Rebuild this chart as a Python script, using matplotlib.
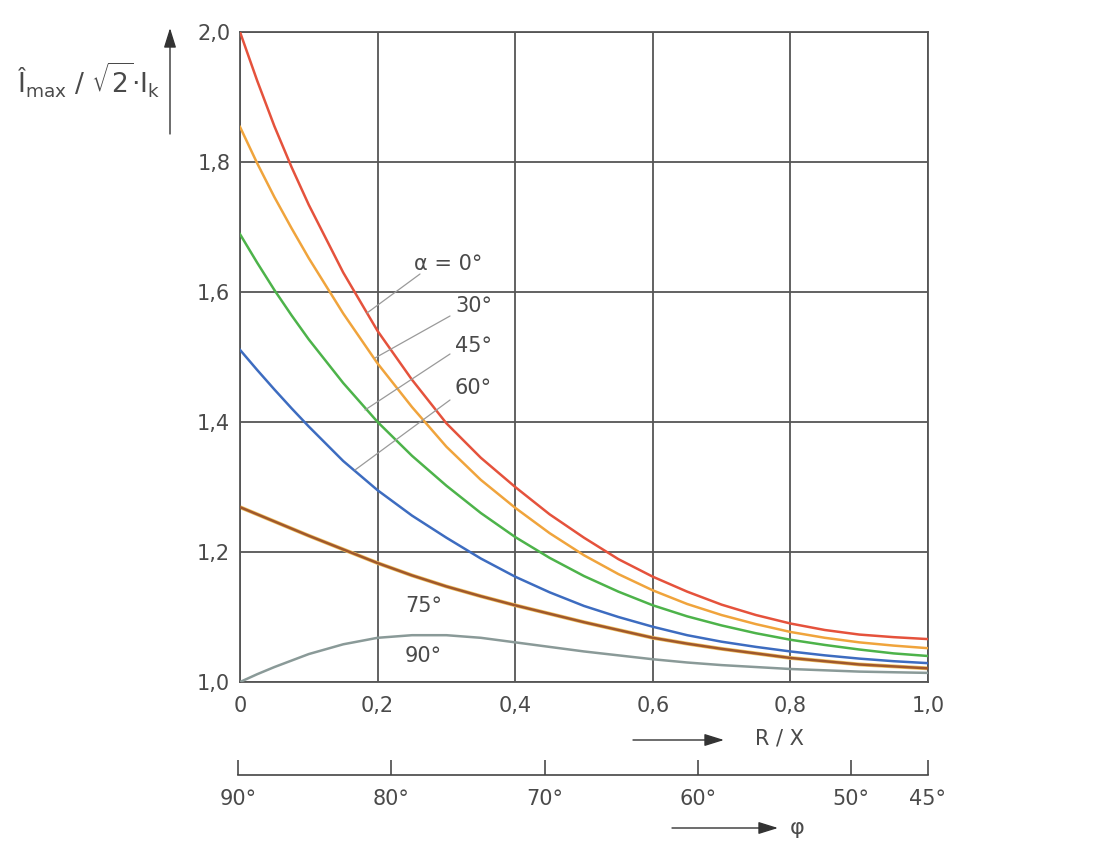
import matplotlib
matplotlib.use("Agg")
import matplotlib.pyplot as plt

plt.rcParams['font.family'] = ['DejaVu Sans']
plt.rcParams['mathtext.fontset'] = 'dejavusans'

# ---------------- data ----------------
rx = [0.0, 0.025, 0.05, 0.075, 0.1, 0.15, 0.2, 0.25, 0.3, 0.35, 0.4, 0.45, 0.5,
      0.55, 0.6, 0.65, 0.7, 0.75, 0.8, 0.85, 0.9, 0.95, 1.0]
alpha_0 = [2.000, 1.925, 1.855, 1.792, 1.734, 1.630, 1.540, 1.465, 1.398, 1.345, 1.300, 1.258, 1.222,
           1.189, 1.162, 1.139, 1.119, 1.103, 1.090, 1.080, 1.073, 1.069, 1.066]
alpha_30 = [1.854, 1.798, 1.746, 1.698, 1.652, 1.567, 1.490, 1.423, 1.362, 1.311, 1.268, 1.229, 1.195,
            1.166, 1.141, 1.120, 1.103, 1.089, 1.077, 1.068, 1.061, 1.056, 1.052]
alpha_45 = [1.689, 1.645, 1.603, 1.564, 1.527, 1.460, 1.400, 1.348, 1.302, 1.260, 1.223, 1.191, 1.163,
            1.139, 1.118, 1.101, 1.087, 1.075, 1.065, 1.057, 1.050, 1.044, 1.040]
alpha_60 = [1.511, 1.480, 1.450, 1.421, 1.393, 1.340, 1.295, 1.256, 1.222, 1.190, 1.162, 1.138, 1.117,
            1.100, 1.085, 1.072, 1.062, 1.054, 1.047, 1.041, 1.036, 1.032, 1.029]
alpha_75 = [1.269, 1.258, 1.247, 1.236, 1.225, 1.204, 1.183, 1.164, 1.147, 1.132, 1.118, 1.105, 1.092,
            1.080, 1.068, 1.059, 1.051, 1.044, 1.037, 1.032, 1.027, 1.024, 1.021]
alpha_90 = [1.000, 1.012, 1.023, 1.033, 1.043, 1.058, 1.068, 1.072, 1.072, 1.068, 1.061, 1.054, 1.047,
            1.041, 1.035, 1.030, 1.026, 1.023, 1.020, 1.018, 1.016, 1.015, 1.014]

x_ticks = [0.0, 0.2, 0.4, 0.6, 0.8, 1.0]
x_ticklabels = ["0", "0,2", "0,4", "0,6", "0,8", "1,0"]
y_ticks = [1.0, 1.2, 1.4, 1.6, 1.8, 2.0]
y_ticklabels = ["1,0", "1,2", "1,4", "1,6", "1,8", "2,0"]
phi_ticks = [90, 80, 70, 60, 50, 45]
phi_ticklabels = ["90°", "80°", "70°", "60°", "50°", "45°"]

series = [
    (alpha_75, "#a0582c"),
    (alpha_90, "#8a9a98"),
    (alpha_60, "#3d6cc0"),
    (alpha_45, "#4db34a"),
    (alpha_30, "#f0a43c"),
    (alpha_0, "#e5523c"),
]

# ---------------- figure ----------------
W, H = 1115, 841
fig = plt.figure(figsize=(W / 100, H / 100), dpi=100)
fig.patch.set_facecolor("white")

def fx(px):
    return px / W

def fy(py):
    return 1 - py / H

L, R, T, B = 240, 928, 32, 682
ax = fig.add_axes([fx(L), fy(B), fx(R) - fx(L), fy(T) - fy(B)])
ax.set_xlim(0, 1.0)
ax.set_ylim(1.0, 2.0)

grid_c = "#555555"
txt_c = "#4a4a4a"
for s in ax.spines.values():
    s.set_color(grid_c)
    s.set_linewidth(1.3)
ax.set_xticks(x_ticks)
ax.set_xticklabels(x_ticklabels)
ax.set_yticks(y_ticks)
ax.set_yticklabels(y_ticklabels)
ax.tick_params(axis="both", length=0, labelsize=15, colors=txt_c)
ax.tick_params(axis="x", pad=10)
ax.tick_params(axis="y", pad=7)
ax.grid(True, color=grid_c, linewidth=1.3)
ax.set_axisbelow(True)

# faint yellowish edge under the brown curve
ax.plot(rx, alpha_75, color="#f0c060", linewidth=2.8, solid_joinstyle="round", zorder=2)
for ys, c in series:
    ax.plot(rx, ys, color=c, linewidth=1.8, solid_joinstyle="round", zorder=3)

# leader lines and labels
lead_c = "#9a9a9a"
def leader(p1, p2):
    ax.annotate("", xy=p1, xytext=p2, xycoords="figure pixels", textcoords="figure pixels",
                arrowprops=dict(arrowstyle="-", color=lead_c, lw=0.9, shrinkA=0, shrinkB=0))

def figtext(px, py, s, **kw):
    fig.text(fx(px), fy(py), s, **kw)

leader((367, H - 313), (420, H - 274))
leader((375, H - 358), (450, H - 316))
leader((365, H - 410), (450, H - 354))
leader((355, H - 470), (450, H - 400))

tk = dict(fontsize=15, color=txt_c, va="center", ha="left")
figtext(414, 264, "α = 0°", **tk)
figtext(455, 306, "30°", **tk)
figtext(455, 346, "45°", **tk)
figtext(455, 388, "60°", **tk)
figtext(405, 606, "75°", **tk)
figtext(405, 656, "90°", **tk)

# y-axis label and arrow
figtext(17, 80, r"Î$_{\mathrm{max}}$ / $\sqrt{2}$·I$_{\mathrm{k}}$", fontsize=19, color=txt_c,
        va="center", ha="left")
arr = dict(arrowstyle="-|>,head_length=0.8,head_width=0.25", color="#333333", lw=1.0,
           mutation_scale=15, shrinkA=0, shrinkB=0)
ax.annotate("", xy=(170, H - 28), xytext=(170, H - 134), xycoords="figure pixels",
            textcoords="figure pixels", arrowprops=arr)

# R/X arrow
ax.annotate("", xy=(724, H - 740), xytext=(633, H - 740), xycoords="figure pixels",
            textcoords="figure pixels", arrowprops=arr)
figtext(755, 739, "R / X", fontsize=15, color=txt_c, va="center", ha="left")

# phi scale
pax = fig.add_axes([fx(238), fy(775), fx(928) - fx(238), 0.0005])
pax.set_xlim(90, 45)
pax.set_ylim(0, 1)
for k in ["top", "left", "right"]:
    pax.spines[k].set_visible(False)
pax.spines["bottom"].set_color("#444444")
pax.spines["bottom"].set_linewidth(1.2)
pax.set_yticks([])
pax.set_xticks(phi_ticks)
pax.set_xticklabels(phi_ticklabels)
pax.tick_params(axis="x", direction="in", length=11, width=1.2, colors=txt_c,
                labelsize=15, pad=10)
pax.patch.set_alpha(0)

ax.annotate("", xy=(778, H - 828), xytext=(672, H - 828), xycoords="figure pixels",
            textcoords="figure pixels", arrowprops=arr)
figtext(790, 828, "φ", fontsize=16, color=txt_c, va="center", ha="left")

fig.savefig("out.png", dpi=100, facecolor="white")
